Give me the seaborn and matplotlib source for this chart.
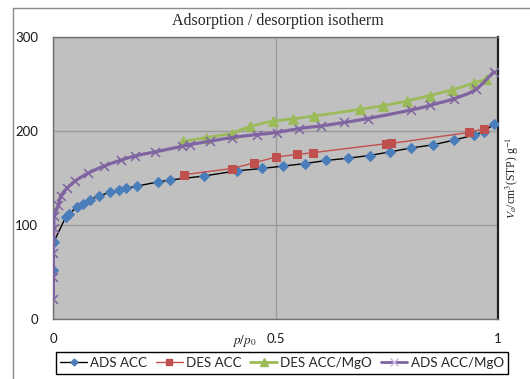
import numpy as np
import pandas as pd
import matplotlib
matplotlib.use("Agg")
import matplotlib.pyplot as plt
import seaborn as sns
from matplotlib.path import Path
from matplotlib.patches import PathPatch
from matplotlib.lines import Line2D

# ---------------- data ----------------
ads_acc_p = [0, 0.001, 0.028, 0.036, 0.052, 0.066, 0.082, 0.103, 0.127, 0.148, 0.163, 0.187,
             0.236, 0.262, 0.339, 0.412, 0.469, 0.516, 0.567, 0.613, 0.663, 0.711, 0.757,
             0.805, 0.853, 0.900, 0.947, 0.968, 0.990]
ads_acc_v = [52, 82, 109, 112, 119, 123, 127, 131, 135, 137, 139, 141.5,
             146, 148, 152.3, 157.8, 160.3, 162.8, 165.6, 168.8, 171.3, 174.1, 178,
             182.2, 185.4, 190.4, 196, 199.3, 207.3]

des_acc_p = [0.293, 0.401, 0.451, 0.501, 0.549, 0.583, 0.748, 0.760, 0.935, 0.968]
des_acc_v = [153.7, 160.2, 166.2, 172.6, 175.3, 177.1, 186.7, 187.0, 198.7, 202.6]

des_mgo_p = [0.292, 0.344, 0.401, 0.443, 0.493, 0.540, 0.587, 0.690, 0.742, 0.795,
             0.846, 0.897, 0.946, 0.974]
des_mgo_v = [189.3, 193.2, 197.5, 205.3, 210.8, 213.2, 216.2, 223.3, 227.2, 232.1,
             238.0, 244.0, 251.3, 255.6]

ads_mgo_p = [0, 0, 0, 0.001, 0.002, 0.011, 0.017, 0.030, 0.049, 0.077, 0.113, 0.151,
             0.184, 0.229, 0.290, 0.307, 0.352, 0.401, 0.457, 0.502, 0.552, 0.603,
             0.654, 0.707, 0.804, 0.848, 0.901, 0.950, 0.990]
ads_mgo_v = [21.5, 45, 70.5, 97, 109.5, 121, 131, 139, 147, 155, 162.7, 169,
             173.7, 178, 184, 185.8, 189.3, 193.2, 196.4, 198.6, 202.8, 205.7,
             209.3, 213.5, 222.5, 227.7, 234.6, 244.5, 263.2]

series_names = ["ADS ACC", "DES ACC", "DES ACC/MgO", "ADS ACC/MgO"]
x_ticks = [0, 0.5, 1]
x_tick_labels = ["0", "0.5", "1"]
y_ticks = [0, 100, 200, 300]
y_tick_labels = ["0", "100", "200", "300"]

# ---------------- style ----------------
BLUE = "#4A7EBB"
RED = "#C0504D"
GREEN = "#9BBB59"
PURPLE = "#8064A2"

sns.set_style("white")
plt.rcParams["font.family"] = ["Lato", "DejaVu Sans"]
plt.rcParams["mathtext.fontset"] = "stix"

fig = plt.figure(figsize=(5.30, 3.79), dpi=100)
ax = fig.add_axes([53.4 / 530, 60 / 379, (498 - 53.4) / 530, (319 - 37.3) / 379])
ax.set_facecolor("#C0C0C0")

# outer chart border (left and top visible)
fig.add_artist(Line2D([12.5 / 530, 12.5 / 530], [0, 1 - 8 / 379], transform=fig.transFigure,
                      color="#8C8C8C", lw=1))
fig.add_artist(Line2D([12.5 / 530, 1], [1 - 8 / 379, 1 - 8 / 379], transform=fig.transFigure,
                      color="#8C8C8C", lw=1))

df_ads = pd.DataFrame({"p": ads_acc_p, "v": ads_acc_v})
df_des = pd.DataFrame({"p": des_acc_p, "v": des_acc_v})
df_dmg = pd.DataFrame({"p": des_mgo_p, "v": des_mgo_v})
df_amg = pd.DataFrame({"p": ads_mgo_p, "v": ads_mgo_v})

sns.lineplot(data=df_ads, x="p", y="v", ax=ax, sort=False, estimator=None,
             color="black", lw=1.0, marker="D", markersize=4.8,
             markerfacecolor=BLUE, markeredgecolor=BLUE, zorder=3)
sns.lineplot(data=df_des, x="p", y="v", ax=ax, sort=False, estimator=None,
             color=RED, lw=1.0, marker="s", markersize=5.8,
             markerfacecolor=RED, markeredgecolor=RED, zorder=4)
sns.lineplot(data=df_dmg, x="p", y="v", ax=ax, sort=False, estimator=None,
             color=GREEN, lw=2.0, marker="^", markersize=7.5,
             markerfacecolor=GREEN, markeredgecolor=GREEN, zorder=5)

# smoothed line (Excel-style Catmull-Rom Bezier) for ADS ACC/MgO
px = np.asarray(ads_mgo_p, float)
py = np.asarray(ads_mgo_v, float)
pts = np.column_stack([px, py])
n = len(pts)
verts = [tuple(pts[0])]
codes = [Path.MOVETO]
for i in range(n - 1):
    p0 = pts[i - 1] if i > 0 else pts[i]
    p1 = pts[i]
    p2 = pts[i + 1]
    p3 = pts[i + 2] if i + 2 < n else pts[i + 1]
    c1 = p1 + (p2 - p0) / 6.0
    c2 = p2 - (p3 - p1) / 6.0
    verts += [tuple(c1), tuple(c2), tuple(p2)]
    codes += [Path.CURVE4] * 3
ax.add_patch(PathPatch(Path(verts, codes), fill=False, edgecolor=PURPLE, lw=2.3,
                       transform=ax.transData, zorder=6, capstyle="round", joinstyle="round"))
sns.scatterplot(data=df_amg, x="p", y="v", ax=ax, marker="x", s=42, color=PURPLE,
                linewidth=1.1, zorder=7, legend=False)

# ---------------- axes ----------------
ax.set_xlim(0, 1)
ax.set_ylim(0, 300)
ax.set_xticks(x_ticks)
ax.set_xticklabels(x_tick_labels)
ax.set_yticks(y_ticks)
ax.set_yticklabels(y_tick_labels)
ax.grid(True, color="#9A9A9A", lw=1.0)
ax.set_axisbelow(True)
ax.tick_params(axis="both", labelsize=9.5, colors="#1a1a1a", length=4, width=0.8,
               direction="out")
ax.tick_params(axis="y", pad=7, color="#8C8C8C")
ax.tick_params(axis="x", pad=6, color="#8C8C8C")
for side in ["left", "bottom", "top"]:
    ax.spines[side].set_color("#707070")
    ax.spines[side].set_linewidth(1.0)
ax.spines["right"].set_color("#202020")
ax.spines["right"].set_linewidth(1.6)
ax.set_xlabel("")
ax.set_ylabel("")

fig.text(278 / 530, 1 - 21 / 379, "Adsorption / desorption isotherm",
         family="Liberation Serif", fontsize=11.5, ha="center", va="center")
fig.text(244.5 / 530, 1 - 341 / 379, r"$p/p_0$", fontsize=9.5, ha="center", va="center")
fig.text(512 / 530, 1 - 178 / 379, r"$V_a$/cm$^3$(STP) g$^{-1}$",
         family="Liberation Serif", fontsize=8.5, rotation=90, ha="center", va="center")

handles = [
    Line2D([], [], color="black", lw=1.0, marker="D", markersize=3.5,
           markerfacecolor=BLUE, markeredgecolor=BLUE),
    Line2D([], [], color=RED, lw=1.0, marker="s", markersize=5,
           markerfacecolor=RED, markeredgecolor=RED),
    Line2D([], [], color=GREEN, lw=2.0, marker="^", markersize=6,
           markerfacecolor=GREEN, markeredgecolor=GREEN),
    Line2D([], [], color=PURPLE, lw=2.0, marker="x", markersize=6,
           markeredgecolor="#C8B8E0", markeredgewidth=1.0),
]
leg = fig.legend(handles, series_names, loc="center", ncol=4,
                 bbox_to_anchor=(282 / 530, 1 - 363 / 379),
                 fontsize=9.6, frameon=True, fancybox=False, framealpha=1,
                 edgecolor="black", handlelength=2.0, handletextpad=0.25,
                 columnspacing=0.65, borderpad=0.35, borderaxespad=0)
leg.get_frame().set_linewidth(1.0)

fig.savefig("out.png", dpi=100)
